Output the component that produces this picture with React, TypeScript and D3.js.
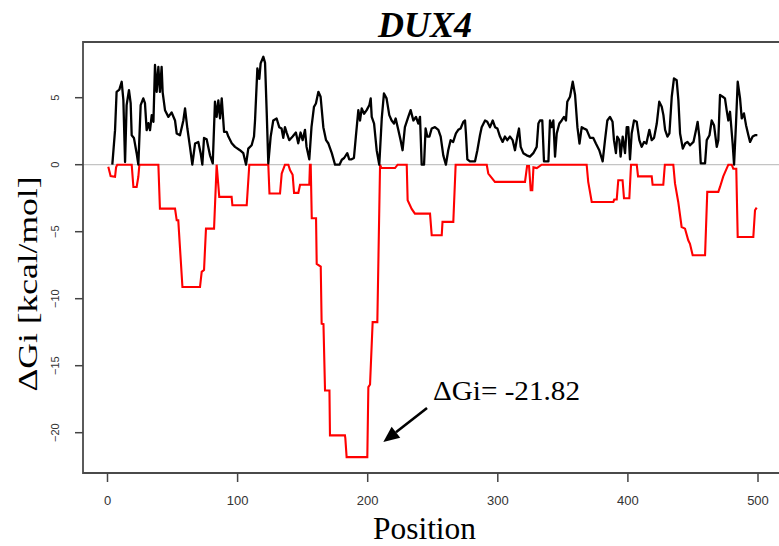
import React from "react";
import * as d3 from "d3";

// Positive ΔGi profile (black): [position, value]
const positiveSeries: [number, number][] = [
  [3.7,0],[5.8,2.58],[7.0,5.44],[9.1,5.6],[10.9,6.19],[12.2,4.82],[13.5,0.2],[14.7,4.45],[16.5,5.57],[17.8,4.6],
  [18.6,2.2],[20.3,2.0],[22.4,0.86],[23.7,0],[25.5,4.45],[27.5,4.95],[28.8,4.6],[30.1,2.58],[31.4,3.1],[32.7,2.58],
  [34.0,3.7],[35.3,3.2],[36.5,7.44],[37.8,5.44],[39.1,7.3],[40.3,5.44],[41.6,7.3],[42.4,5.4],[44.2,4.07],[46.8,3.57],
  [49.3,3.9],[51.9,3.3],[53.2,2.33],[55.7,2.2],[58.3,3.3],[59.6,4.2],[61.4,2.7],[63.4,1.33],[65.2,0],[67.3,1.58],
  [69.8,1.7],[71.6,0.86],[72.9,0],[74.2,2.0],[76.2,1.9],[78.8,0.7],[80.9,0.1],[82.6,4.7],[83.9,3.57],[85.2,4.8],
  [86.5,3.45],[87.8,4.95],[89.6,2.45],[91.6,2.45],[92.9,2.1],[95.5,1.6],[98.0,1.33],[101.8,1.08],[104.4,0.86],[106.5,0],
  [108.2,1.2],[110.8,1.45],[112.6,2.1],[113.4,3.3],[115.2,7.19],[116.7,6.4],[117.7,7.56],[119.8,8.06],[121.1,7.6],[122.4,3.83],
  [123.6,0.1],[125.4,2.08],[127.4,3.3],[130,3.45],[132,2.8],[133.8,2.7],[135.1,2.0],[136.4,2.8],[137.7,2.4],[139.7,1.83],
  [142.3,2.1],[144.8,2.4],[146.6,1.6],[148.4,2.4],[150,1.83],[151.8,2.6],[153,1.33],[155.1,0.4],[156.8,2.8],[158.7,4.32],
  [160.2,4.57],[162.1,5.44],[163.8,5.07],[165.9,2.8],[168,1.83],[169.8,1.58],[172.4,0.86],[174.9,0],[178.3,0],[180.1,0.37],
  [181.9,0.5],[184.3,0.86],[185.8,0.4],[187.6,0.4],[189.4,0.5],[190.9,2.1],[192.8,4.07],[194.1,3.3],[195.4,4.2],[197.2,3.8],
  [199.2,4.07],[201.3,4.45],[202.3,4.95],[203.1,3.57],[204.9,3.07],[206.9,1.08],[208.9,0],[210.8,3.45],[212.5,5.32],[214.5,4.95],
  [216.6,3.7],[218.4,3.3],[220.2,3.07],[221.5,3.45],[223.5,2.6],[225.3,1.83],[226.8,1.08],[228.6,2.8],[231.2,3.57],[233,4.07],
  [235.1,3.3],[237.1,3.57],[238.9,3.07],[240.2,3.57],[241.5,0],[243.3,0],[244.5,2.7],[245.8,2.1],[247.4,2.1],[249.2,2.7],
  [251.7,2.8],[254.3,2.6],[256.1,2.1],[258.1,0.7],[260.1,0],[261.9,1.08],[263.7,1.83],[265.7,1.7],[267.8,2.33],[269.6,2.6],
  [271.4,2.7],[273.5,3.2],[274.8,3.3],[275.5,2.33],[276.6,0.4],[278.6,0.25],[282.5,0.25],[284.3,1.08],[286.3,2.2],[287.6,2.8],
  [290.2,3.3],[291.9,3.2],[294,2.8],[296.1,3.3],[297.9,2.8],[299.7,2.7],[301.7,2.1],[303.7,1.7],[305.5,2.1],[307.3,1.83],
  [309.4,2.1],[311.4,1.83],[313.2,1.08],[315,2.1],[316.3,2.7],[317.6,1.33],[319.6,0.86],[322.2,0.7],[324.7,0.6],[327.3,0.86],
  [329.9,1.33],[331.2,3.07],[332.4,3.3],[334.2,3.3],[335.5,0.25],[338.9,0.25],[340.1,3.3],[341.4,2.8],[342.7,3.3],[344,0.6],
  [345.3,2.33],[347.3,3.07],[349.1,3.3],[350.9,3.57],[352.4,3.3],[353.4,4.7],[355.5,5.07],[357.6,6.19],[359.4,5.2],[361.2,2.8],
  [362.8,1.58],[364.5,2.8],[366.3,2.7],[368.3,2.6],[370.9,2.0],[373.4,2.0],[375.4,1.58],[378,1.08],[380.6,0.25],[382.4,1.83],
  [384.2,3.3],[386.2,3.57],[388.2,3.2],[389.3,1.83],[390.8,0.86],[391.8,2.1],[393.4,1.83],[394.4,0.6],[396,2.1],[397.8,0.86],
  [399.1,2.8],[400.3,2.8],[401.6,0.4],[402.9,2.33],[404.7,3.3],[406.8,3.2],[408.8,1.83],[410.6,1.33],[412.4,1.7],[414.2,1.58],
  [416.5,2.6],[418.3,1.83],[420.1,2.0],[422.2,3.07],[424.1,4.7],[426,4.32],[427.3,3.7],[428.6,2.6],[430.4,2.1],[431.9,2.33],
  [433.7,5.07],[435.4,6.44],[437.5,6.3],[438.8,4.82],[440.1,2.33],[442.2,1.2],[444,1.58],[445.8,1.7],[447.8,1.45],[450.4,1.7],
  [452.4,2.6],[453.6,3.2],[454.9,2.1],[456,0.1],[459.3,0.1],[460.6,1.83],[462.7,2.2],[464.4,3.3],[466.2,2.95],[468.3,1.33],
  [469.5,1.83],[470.8,5.2],[472.9,5.07],[474.6,4.95],[475.9,4.07],[477.2,3.3],[478.5,3.95],[480.5,1.58],[481.6,0],[483.1,3.07],
  [484.4,6.19],[486.2,4.95],[487.5,3.45],[489.2,3.83],[490.8,2.95],[492.6,2.2],[493.9,1.7],[495.9,2.1],[497.7,2.2],[499.5,2.2],
];

// Negative ΔGi profile (red): [position, value]
const negativeSeries: [number, number][] = [
  [0.6,-0.16],[2.4,-0.85],[5.8,-0.9],[6.6,-0.2],[7.5,0],[18.6,0],[19.9,-1.66],[22.4,-1.66],[23.7,-0.9],[24.5,0],
  [39.1,0],[40.3,-3.28],[51.9,-3.28],[53.2,-4.15],[54.4,-4.15],[57.6,-9.13],[71.1,-9.13],[72.4,-8.0],[74.2,-7.85],[75.7,-4.77],
  [81.9,-4.77],[83.9,0],[85.9,-2.4],[95.4,-2.4],[96,-3.03],[107,-3.03],[109,0],[123.6,0],[124.5,-2.15],[132.6,-2.15],
  [133.9,-0.66],[136.4,0],[139,0],[140.3,-0.4],[142.3,-0.75],[143.4,-2.1],[146.7,-2.1],[148,-1.5],[155.1,-1.5],[155.6,0],
  [156.2,0],[157,-4.0],[160.3,-4.0],[160.8,-7.4],[163.9,-7.6],[164.6,-11.87],[166,-11.9],[167.2,-16.85],[170.6,-16.85],[171,-20.2],
  [182.5,-20.2],[182.8,-20.4],[183.8,-21.82],[199.7,-21.82],[200.5,-16.6],[201.8,-16.4],[203.8,-11.75],[207.4,-11.75],[209.5,0],[210.5,-0.25],
  [221,-0.25],[223,0],[230,0],[230.7,-2.65],[233.8,-3.3],[236.3,-3.65],[247.9,-3.65],[249.2,-5.27],[256.9,-5.27],[257.5,-4.27],
  [265.8,-4.27],[267.6,0],[291.5,0],[292.7,-0.66],[297.8,-1.28],[320.9,-1.28],[322.5,-0.1],[324,-0.1],[325.3,-1.9],[326.5,-1.9],
  [327.4,-0.2],[330,-0.25],[333.7,0],[368.3,0],[369.5,-1.28],[372.2,-2.78],[388.8,-2.78],[389.5,-2.6],[391.4,-2.6],[392.6,-1.16],
  [395.9,-1.16],[397,-2.5],[401.1,-2.5],[402.4,0],[406.8,0],[407.8,-0.87],[418.3,-0.87],[419,-1.5],[427.2,-1.5],[428.4,0],
  [434.9,0],[436.2,-1.4],[438.7,-2.78],[441.3,-4.65],[443.9,-4.77],[446.4,-5.64],[447.7,-5.9],[449.8,-6.76],[459.3,-6.76],[461.0,-2.03],
  [469.5,-2.03],[470.8,-1.66],[473.3,-0.87],[477.2,0],[479.8,0],[481,-0.3],[483.3,-0.3],[484.4,-5.4],[496.4,-5.4],[497.7,-3.4],
  [499,-3.2],
];

const xTicks = [0, 100, 200, 300, 400, 500];
const yTicks = [5, 0, -5, -10, -15, -20];
const titleText = "DUX4";
const xLabel = "Position";
const yLabel = "ΔGi [kcal/mol]";
const annotationText = "ΔGi= -21.82";
// annotation anchors in data space: [position, value]
const arrowTip: [number, number] = [212, -20.7];
const arrowTail: [number, number] = [245.6, -18.16];
const labelAnchor: [number, number] = [250.2, -17.56];

const W = 779;
const H = 546;

export default function App() {
  const x = d3.scaleLinear().domain([0, 500]).range([107.5, 758]);
  const y = d3.scaleLinear().domain([5, -20]).range([97.7, 432.7]);
  const box = { left: 83, top: 42, bottom: 473, right: 790 };

  const line = d3
    .line<[number, number]>()
    .x((d) => x(d[0]))
    .y((d) => y(d[1]));

  const serif = "'Liberation Serif', 'Times New Roman', serif";
  const sans = "'Liberation Sans', Arial, Helvetica, sans-serif";

  // arrow geometry
  const tx = x(arrowTip[0]);
  const ty = y(arrowTip[1]);
  const sx = x(arrowTail[0]);
  const sy = y(arrowTail[1]);
  const len = Math.hypot(tx - sx, ty - sy);
  const ux = (tx - sx) / len;
  const uy = (ty - sy) / len;
  const headLen = 16;
  const headHalf = 7;
  const bx = tx - ux * headLen;
  const by = ty - uy * headLen;
  const px = -uy;
  const py = ux;
  const head = `M${tx},${ty}L${bx + px * headHalf},${by + py * headHalf}L${bx - px * headHalf},${by - py * headHalf}Z`;

  return (
    <svg
      width={W}
      height={H}
      style={{ position: "absolute", left: 0, top: 0, background: "#fff" }}
    >
      <defs>
        <clipPath id="plotClip">
          <rect x={box.left} y={box.top} width={box.right - box.left} height={box.bottom - box.top} />
        </clipPath>
      </defs>
      <rect x={0} y={0} width={W} height={H} fill="#fff" />

      {/* zero reference line */}
      <line x1={box.left} x2={W} y1={y(0)} y2={y(0)} stroke="#c4c4c4" strokeWidth={1.2} />

      <g clipPath="url(#plotClip)">
        <path d={line(negativeSeries) || ""} fill="none" stroke="#ff0000" strokeWidth={2.1} strokeLinejoin="miter" />
        <path d={line(positiveSeries) || ""} fill="none" stroke="#000" strokeWidth={2.3} strokeLinejoin="round" />
      </g>

      {/* plot box */}
      <path
        d={`M${box.right},${box.top}H${box.left}V${box.bottom}H${box.right}`}
        fill="none"
        stroke="#4a4a4a"
        strokeWidth={1.8}
      />

      {/* x axis */}
      {xTicks.map((t) => (
        <g key={"x" + t}>
          <line x1={x(t)} x2={x(t)} y1={box.bottom} y2={box.bottom + 9} stroke="#444" strokeWidth={1.5} />
          <text x={x(t)} y={505} textAnchor="middle" fontFamily={sans} fontSize={13} fill="#333">
            {t}
          </text>
        </g>
      ))}

      {/* y axis */}
      {yTicks.map((t) => (
        <g key={"y" + t}>
          <line x1={box.left - 8} x2={box.left} y1={y(t)} y2={y(t)} stroke="#444" strokeWidth={1.5} />
          <text
            transform={`translate(59,${y(t)}) rotate(-90)`}
            textAnchor="middle"
            fontFamily={sans}
            fontSize={11}
            fill="#333"
          >
            {t < 0 ? "\u2212" + Math.abs(t) : String(t)}
          </text>
        </g>
      ))}

      {/* title */}
      <text x={425} y={37} textAnchor="middle" fontFamily={serif} fontWeight="bold" fontStyle="italic" fontSize={36} fill="#000">
        {titleText}
      </text>

      {/* axis labels */}
      <text x={424.5} y={539} textAnchor="middle" fontFamily={serif} fontSize={32} fill="#000" textLength={103} lengthAdjust="spacingAndGlyphs">
        {xLabel}
      </text>
      <text
        transform={`translate(37,284) rotate(-90)`}
        textAnchor="middle"
        fontFamily={serif}
        fontSize={27}
        fill="#000"
        textLength={215}
        lengthAdjust="spacingAndGlyphs"
      >
        {yLabel}
      </text>

      {/* annotation */}
      <text
        x={x(labelAnchor[0])}
        y={y(labelAnchor[1])}
        fontFamily={serif}
        fontSize={28}
        fill="#000"
        textLength={147}
        lengthAdjust="spacingAndGlyphs"
      >
        {annotationText}
      </text>
      <line x1={sx} y1={sy} x2={bx} y2={by} stroke="#000" strokeWidth={2.6} />
      <path d={head} fill="#000" />
    </svg>
  );
}
